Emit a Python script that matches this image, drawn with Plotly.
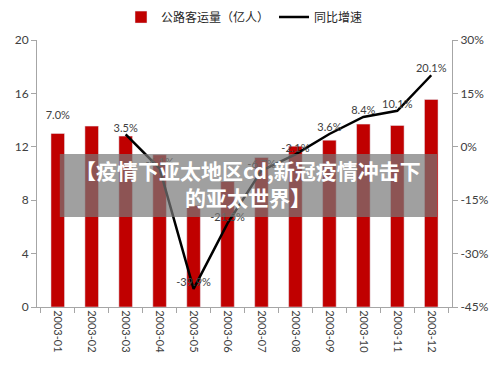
import plotly.graph_objects as go

months = ["2003-01", "2003-02", "2003-03", "2003-04", "2003-05", "2003-06",
          "2003-07", "2003-08", "2003-09", "2003-10", "2003-11", "2003-12"]
volume = [13.0, 13.55, 12.8, 11.4, 7.6, 9.4, 11.2, 12.05, 12.5, 13.7, 13.6, 15.55]
growth = [7.0, None, 3.5, -6.1, -39.9, -21.5, -6.7, -2.1, 3.6, 8.4, 10.1, 20.1]
growth_labels = ["7.0%", "", "3.5%", "-6.1%", "-39.9%", "-21.5%", "-6.7%",
                 "-2.1%", "3.6%", "8.4%", "10.1%", "20.1%"]
left_ticks = [0, 4, 8, 12, 16, 20]
right_ticks = [-45, -30, -15, 0, 15, 30]
right_tick_text = ["-45%", "-30%", "-15%", "0%", "15%", "30%"]

FONT = "Lato, 'Noto Sans CJK SC', sans-serif"
AXIS_GRAY = "#A6A6A6"
TXT = "#404040"

fig = go.Figure()
fig.add_trace(go.Bar(
    x=months, y=volume, name="公路客运量（亿人）",
    marker=dict(color="#C00000"), width=0.4, yaxis="y",
))
fig.add_trace(go.Scatter(
    x=months, y=growth, name="同比增速", yaxis="y2",
    mode="lines+text", text=growth_labels, textposition="top center",
    textfont=dict(size=11, color=TXT, family=FONT),
    line=dict(color="black", width=2.5), connectgaps=False, cliponaxis=False,
))

fig.update_layout(
    width=492, height=364,
    margin=dict(l=29, r=48, t=32, b=65, autoexpand=False),
    paper_bgcolor="white", plot_bgcolor="white",
    font=dict(family=FONT, size=11, color=TXT),
    showlegend=True,
    legend=dict(orientation="h", x=0.5, xanchor="center", y=0.975, yanchor="middle",
                yref="container", font=dict(size=12, color="#262626",
                family="'Noto Sans CJK SC', sans-serif"),
                itemwidth=30, bgcolor="rgba(0,0,0,0)"),
    bargap=0.6,
    xaxis=dict(type="category", showline=True, linecolor=AXIS_GRAY, linewidth=1,
               ticks="outside", tickson="boundaries", ticklen=5, tickcolor=AXIS_GRAY,
               tickangle=90, showgrid=False, automargin=False,
               tickfont=dict(size=11, color=TXT)),
    yaxis=dict(range=[0, 20], tickvals=left_ticks, showline=True, linecolor=AXIS_GRAY,
               ticks="outside", ticklen=5, tickcolor=AXIS_GRAY, showgrid=False,
               zeroline=False, automargin=False, tickfont=dict(size=12, color=TXT)),
    yaxis2=dict(range=[-45, 30], tickvals=right_ticks, ticktext=right_tick_text,
                overlaying="y", side="right", showline=True, linecolor=AXIS_GRAY,
                ticks="outside", ticklen=5, tickcolor=AXIS_GRAY, showgrid=False,
                zeroline=False, automargin=False, tickfont=dict(size=12, color=TXT)),
)

fig.add_shape(type="rect", xref="paper", yref="paper",
              x0=0.055, x1=0.964, y0=0.337, y1=0.573,
              fillcolor="rgba(120,120,120,0.7)", line=dict(width=0), layer="above")
fig.add_annotation(xref="paper", yref="paper", x=0.508, y=0.4625,
                   text="<b>【疫情下亚太地区cd,新冠疫情冲击下<br>的亚太世界】</b>",
                   showarrow=False, align="center",
                   font=dict(size=21, color="white", family="'Noto Sans CJK SC', sans-serif"))

fig.write_html("out.html")
